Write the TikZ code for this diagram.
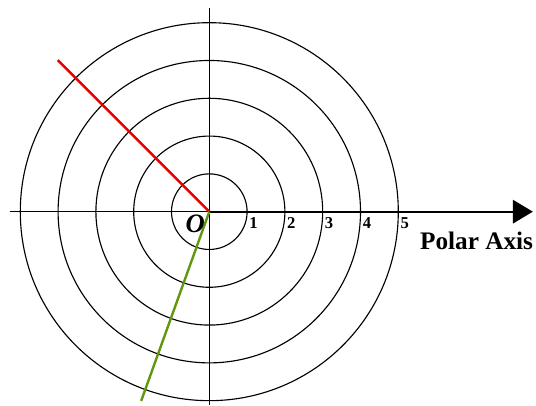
\documentclass[tikz,border=0pt]{standalone}
\usepackage{fontspec}
\setmainfont{Liberation Serif}
\usetikzlibrary{arrows.meta, positioning}
\definecolor{cRay}{RGB}{230,0,0}
\definecolor{cGreen}{RGB}{96,150,16}
\tikzset{
	ring/.style     ={draw=black, line width=0.85pt},
	gridline/.style ={black, line width=0.85pt},
	axisline/.style ={-{Triangle[length=0.53cm, width=0.62cm]}, line width=1.5pt},
	ray/.style      ={line width=1.8pt},
	ticklbl/.style  ={font=\bfseries\fontsize{12.5}{12.5}\selectfont, anchor=north west, inner sep=0pt},
}

\begin{document}
\begin{tikzpicture}
	\useasboundingbox (-5.537,-5.140) rectangle (8.643,5.600);
	\coordinate (O) at (0,0);
	% rings r = 1..5
	\foreach \r in {1,...,5}
		\draw[ring] (O) circle (\r);
	\coordinate (top) at (0,5.39);
	\coordinate (bot) at (0,-5.11);
	\coordinate (west) at (-5.28,0);
	\coordinate (east) at (8.56,0);
	\draw[gridline] (top) -- (bot);
	\draw[gridline] (west) -- (O);
	\draw[axisline] (O) -- (east);
	% rays
	\coordinate (redEnd) at (135:5.67);
	\coordinate (greenEnd) at (250.2:5.32);
	\draw[ray, cRay] (O) -- (redEnd);
	\draw[ray, cGreen] (O) -- (greenEnd);
	% labels
	\foreach \r in {1,...,5}
		\node[ticklbl] (t\r) at ([xshift=1.5pt, yshift=-4.5pt]\r,0) {\r};
	\node[font=\bfseries\itshape\fontsize{20}{20}\selectfont, inner sep=0pt] (origin) at (-0.37,-0.33) {O};
	\node[font=\bfseries\fontsize{19}{19}\selectfont, inner sep=0pt] (polar) at (7.07,-0.78) {Polar Axis};
\end{tikzpicture}
\end{document}
